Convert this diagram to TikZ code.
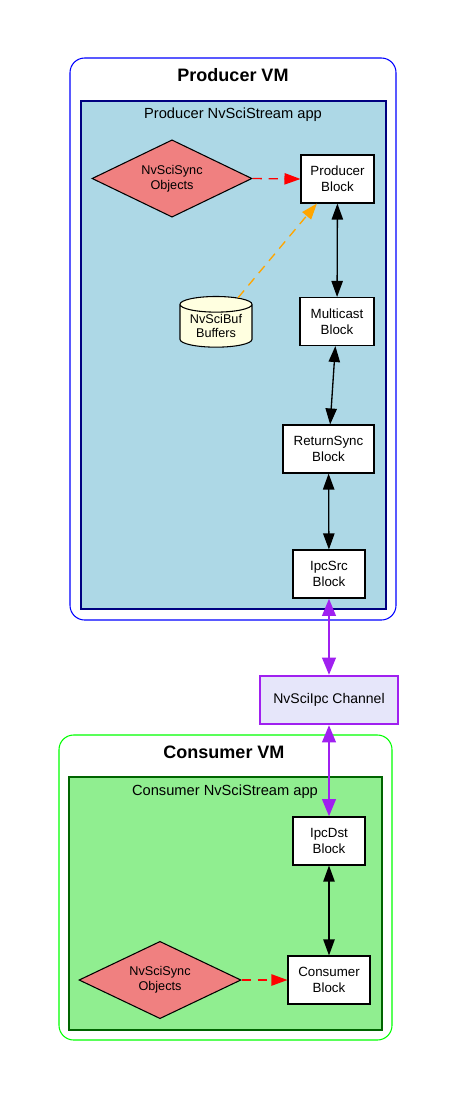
\documentclass[tikz,border=0pt]{standalone}
\usepackage{fontspec}
\setmainfont{Liberation Sans}
\usetikzlibrary{arrows.meta,shapes.geometric}
\definecolor{vmblue}{RGB}{0,0,255}
\definecolor{vmgreen}{RGB}{0,255,0}
\definecolor{appblue}{HTML}{ADD8E6}
\definecolor{appnavy}{HTML}{000080}
\definecolor{appgreen}{HTML}{90EE90}
\definecolor{appdarkgreen}{HTML}{006400}
\definecolor{syncred}{HTML}{F08080}
\definecolor{bufyellow}{HTML}{FFFFE0}
\definecolor{ipcpurple}{HTML}{A020F0}
\definecolor{ipclavender}{HTML}{E6E6FA}
\definecolor{bufarrow}{HTML}{FFA500}

\begin{document}
\begin{tikzpicture}[x=0.75pt, y=-0.75pt,
    block/.style={draw, fill=white, line width=0.8pt, minimum height=36pt,
      inner sep=0pt, align=center, font=\fontsize{10}{12}\selectfont},
    sync/.style={diamond, draw, fill=syncred, line width=0.8pt, aspect=2,
      minimum width=120pt, minimum height=58pt, inner sep=0pt, align=center,
      font=\fontsize{9.5}{11}\selectfont},
    link/.style={{Triangle[length=12pt,width=8.5pt]}-{Triangle[length=12pt,width=8.5pt]},
      line width=1pt},
    ipclink/.style={{Triangle[length=13pt,width=10pt]}-{Triangle[length=13pt,width=10pt]},
      line width=2.2pt, ipcpurple},
    feed/.style={-{Triangle[length=12pt,width=8.5pt]}, line width=1pt,
      dash pattern=on 7pt off 5pt}]
  \useasboundingbox (0, 0) rectangle (455, 1099);

  % producer side
  \draw[vmblue, line width=0.8pt, rounded corners=11pt] (70, 58) rectangle (396, 620);
  \draw[appnavy, fill=appblue, line width=0.8pt] (81, 101) rectangle (386, 609);
  \node[font=\fontsize{13.5}{16}\selectfont\bfseries] (pvm) at (233, 75) {Producer VM};
  \node[font=\fontsize{11}{13}\selectfont] (papp) at (233, 115) {Producer NvSciStream app};

  \node[sync] (psync) at (172, 178.5) {NvSciSync\\Objects};
  \node[block, minimum width=54.75pt] (prod) at (337.5, 179) {Producer\\Block};
  \node[cylinder, shape border rotate=90, aspect=0.3, draw, fill=bufyellow,
    line width=0.8pt, minimum width=54pt, minimum height=38pt, inner sep=0pt,
    align=center, font=\fontsize{9.5}{11}\selectfont] (buf) at (216, 326) {NvSciBuf\\Buffers};
  \node[block, minimum width=55.5pt] (multi) at (337, 321.5) {Multicast\\Block};
  \node[block, minimum width=68.25pt] (rsync) at (328.5, 449) {ReturnSync\\Block};
  \node[block, minimum width=54pt] (src) at (329, 574) {IpcSrc\\Block};

  \draw[feed, red] (psync.east) -- (prod.west);
  \draw[feed, bufarrow] (buf.52) -- (prod.230);
  \draw[link] (prod) -- (multi);
  \draw[link] (multi) -- (rsync);
  \draw[link] (rsync) -- (src);

  % channel
  \node[draw=ipcpurple, fill=ipclavender, line width=1.5pt, minimum width=103.5pt,
    minimum height=36pt, font=\fontsize{10.5}{12}\selectfont] (chan) at (329, 700) {NvSciIpc Channel};

  % consumer side
  \draw[vmgreen, line width=0.8pt, rounded corners=11pt] (59, 735) rectangle (392, 1040);
  \draw[appdarkgreen, fill=appgreen, line width=0.8pt] (69, 777) rectangle (382, 1030);
  \node[font=\fontsize{13.5}{16}\selectfont\bfseries] (cvm) at (224, 752) {Consumer VM};
  \node[font=\fontsize{11}{13}\selectfont] (capp) at (225, 792) {Consumer NvSciStream app};

  \node[block, minimum width=54pt] (dst) at (329, 841) {IpcDst\\Block};
  \node[block, minimum width=61.5pt] (cons) at (329, 980) {Consumer\\Block};
  \node[sync, minimum width=121.5pt] (csync) at (160, 980) {NvSciSync\\Objects};

  \draw[link] (dst) -- (cons);
  \draw[feed, red] (csync.east) -- (cons.west);

  \draw[ipclink] (src) -- (chan);
  \draw[ipclink] (chan) -- (dst);
\end{tikzpicture}
\end{document}
